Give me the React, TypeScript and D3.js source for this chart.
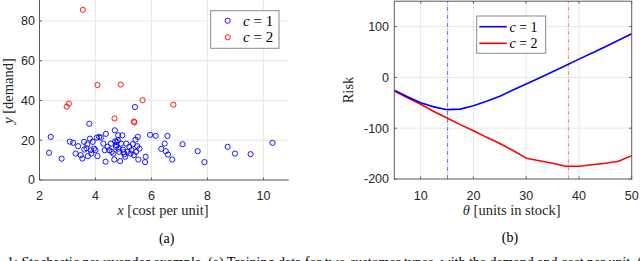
import React from "react";
import * as d3 from "d3";

// (a) training data: cost per unit x, demand y
const blueX = [2.34, 2.4, 2.79, 3.08, 3.2, 3.29, 3.38, 3.47, 3.53, 3.59, 3.6, 3.71, 3.73, 3.78, 3.8, 3.83, 3.85, 3.9, 3.95, 4.0, 4.05, 4.07, 4.13, 4.19, 4.28, 4.33, 4.37, 4.36, 4.43, 4.49, 4.55, 4.58, 4.64, 4.69, 4.67, 4.73, 4.76, 4.81, 4.82, 4.85, 4.88, 4.91, 4.96, 4.98, 5.03, 5.06, 5.1, 5.15, 5.21, 5.25, 5.29, 5.33, 5.37, 5.41, 5.43, 5.45, 5.49, 5.51, 5.53, 5.57, 5.79, 5.77, 5.95, 6.15, 6.35, 6.47, 6.51, 6.57, 6.59, 6.74, 7.11, 7.65, 7.89, 8.72, 8.98, 9.54, 10.32, 4.75, 4.8, 5.0, 4.7, 3.68];
const blueY = [13.7, 21.7, 10.7, 19.3, 18.7, 13.3, 17, 12.5, 10.8, 19.2, 15.3, 18, 12, 28.3, 20.8, 15, 13.3, 19.2, 15.8, 15, 21.3, 12, 21.7, 21.3, 18.3, 15, 23.2, 9.2, 16.7, 15, 18.3, 14.2, 13.3, 25, 10.3, 16.7, 19.2, 22.5, 15.8, 14.2, 9.5, 18.3, 22.5, 15.3, 13, 11.7, 18.3, 14.2, 16.7, 13.3, 15, 18, 12.5, 36.7, 20.3, 14.2, 17, 21.7, 10.3, 15.8, 11.7, 9, 22.7, 22.2, 15.7, 18.3, 14.5, 22.2, 12.8, 10.3, 18, 14.5, 9, 16.7, 13.3, 13, 18.7, 17.5, 20, 14, 19.5, 16];
const redX = [3.55, 2.97, 3.05, 4.07, 4.9, 5.68, 4.68, 5.37, 5.39, 6.78];
const redY = [85.6, 36.9, 38.4, 47.8, 48.0, 40.1, 31.0, 29.4, 29.0, 37.9];

// (b) risk curves
const theta = [5, 7.5, 10, 12.5, 15, 17.5, 20, 22.5, 25, 27.5, 30, 32.5, 35, 37.5, 40, 42.5, 45, 47.5, 50];
const risk1 = [-25, -38, -50, -58, -63.5, -62.5, -56, -47, -37, -25, -13, -1, 11, 23.5, 36, 48, 60.5, 73, 86];
const risk2 = [-27, -40, -53, -67, -80, -93, -105, -118, -130, -144, -159, -164, -169, -175, -175, -172, -169, -165, -154];
const optTheta = [15.1, 38.0];

const xTicksA = [2, 4, 6, 8, 10];
const yTicksA = [0, 20, 40, 60, 80];
const xTicksB = [10, 20, 30, 40, 50];
const yTicksB = [-200, -100, 0, 100];

const BLUE = "#0000ff";
const RED = "#ff0000";
const AXIS = "#5a5a5a";
const GRID = "#e8e8e8";
const TICKFONT = "'Liberation Sans', Arial, sans-serif";
const SERIF = "'Liberation Serif', 'Times New Roman', serif";

export default function App() {
  // left panel scales
  const xa = d3.scaleLinear().domain([2, 10.9]).range([39.5, 288.7]);
  const ya = d3.scaleLinear().domain([0, 90]).range([180, 1.1]);
  // right panel scales
  const xb = d3.scaleLinear().domain([5, 50]).range([394.3, 631.7]);
  const yb = d3.scaleLinear().domain([-200, 150]).range([179, 1.2]);

  const line1 = d3.line<number>().x((d, i) => xb(theta[i])).y((d) => yb(d));

  const [ax0, ax1] = xa.range();
  const [ay0, ay1] = ya.range();
  const [bx0, bx1] = xb.range();
  const [by0, by1] = yb.range();

  return (
    <svg width={640} height={261} style={{ position: "absolute", left: 0, top: 0, background: "#fff" }}>
      {/* ---------- (a) ---------- */}
      <g>
        {xTicksA.map((t) => (
          <line key={"gx" + t} x1={xa(t)} x2={xa(t)} y1={ay0} y2={ay1 - 1} stroke={GRID} />
        ))}
        {yTicksA.map((t) => (
          <line key={"gy" + t} x1={ax0} x2={ax1} y1={ya(t)} y2={ya(t)} stroke={GRID} />
        ))}
        {blueX.map((x, i) => (
          <circle key={"b" + i} cx={xa(x)} cy={ya(blueY[i])} r={2.6} fill="none" stroke={BLUE} strokeWidth={0.9} />
        ))}
        {redX.map((x, i) => (
          <circle key={"r" + i} cx={xa(x)} cy={ya(redY[i])} r={2.6} fill="none" stroke={RED} strokeWidth={0.9} />
        ))}
        <line x1={ax0} x2={ax0} y1={ay0} y2={0} stroke={AXIS} />
        <line x1={ax0} x2={ax1} y1={ay0} y2={ay0} stroke={AXIS} />
        {xTicksA.map((t) => (
          <g key={"tx" + t}>
            <line x1={xa(t)} x2={xa(t)} y1={ay0} y2={ay0 - 2.5} stroke={AXIS} />
            <text x={xa(t)} y={199.5} textAnchor="middle" fontFamily={TICKFONT} fontSize={12.5} fill="#262626">{t}</text>
          </g>
        ))}
        {yTicksA.map((t) => (
          <g key={"ty" + t}>
            <line x1={ax0} x2={ax0 + 2.5} y1={ya(t)} y2={ya(t)} stroke={AXIS} />
            <text x={35} y={ya(t) + 4.3} textAnchor="end" fontFamily={TICKFONT} fontSize={12.5} fill="#262626">{t}</text>
          </g>
        ))}
        <text x={163} y={215} textAnchor="middle" fontFamily={SERIF} fontSize={14.5} fill="#262626">
          <tspan fontStyle="italic">x</tspan> [cost per unit]
        </text>
        <text transform="translate(12.5,91) rotate(-90)" textAnchor="middle" fontFamily={SERIF} fontSize={14.5} fill="#262626">
          <tspan fontStyle="italic">y</tspan> [demand]
        </text>
        <text x={166.7} y={243} textAnchor="middle" fontFamily={SERIF} fontSize={14} fill="#000">(a)</text>
        {/* legend */}
        <rect x={210.7} y={10.7} width={68.3} height={37.6} fill="#fff" stroke="#8a8a8a" />
        <circle cx={227.7} cy={20.7} r={2.6} fill="none" stroke={BLUE} strokeWidth={0.9} />
        <circle cx={227.7} cy={37.3} r={2.6} fill="none" stroke={RED} strokeWidth={0.9} />
        <text x={243} y={25.8} fontFamily={SERIF} fontSize={15} fill="#000">
          <tspan fontStyle="italic">c</tspan> = 1
        </text>
        <text x={243} y={42.4} fontFamily={SERIF} fontSize={15} fill="#000">
          <tspan fontStyle="italic">c</tspan> = 2
        </text>
      </g>

      {/* ---------- (b) ---------- */}
      <g>
        {xTicksB.slice(0, -1).map((t) => (
          <line key={"gx" + t} x1={xb(t)} x2={xb(t)} y1={by0} y2={by1} stroke={GRID} />
        ))}
        {yTicksB.slice(1).map((t) => (
          <line key={"gy" + t} x1={bx0} x2={bx1} y1={yb(t)} y2={yb(t)} stroke={GRID} />
        ))}
        <line x1={xb(optTheta[0])} x2={xb(optTheta[0])} y1={by0} y2={by1} stroke="#3c3cff" strokeWidth={0.8} strokeDasharray="4,1.5,1,1.5" />
        <line x1={xb(optTheta[1])} x2={xb(optTheta[1])} y1={by0} y2={by1} stroke="#ff5a5a" strokeWidth={0.8} strokeDasharray="4,1.5,1,1.5" />
        <path d={line1(risk2) ?? ""} fill="none" stroke={RED} strokeWidth={1.6} strokeLinejoin="round" />
        <path d={line1(risk1) ?? ""} fill="none" stroke={BLUE} strokeWidth={1.6} strokeLinejoin="round" />
        <rect x={bx0} y={by1} width={bx1 - bx0} height={by0 - by1} fill="none" stroke={AXIS} />
        {xTicksB.map((t) => (
          <g key={"tx" + t}>
            <line x1={xb(t)} x2={xb(t)} y1={by0} y2={by0 - 2.5} stroke={AXIS} />
            <line x1={xb(t)} x2={xb(t)} y1={by1} y2={by1 + 2.5} stroke={AXIS} />
            <text x={xb(t)} y={199.5} textAnchor="middle" fontFamily={TICKFONT} fontSize={12.5} fill="#262626">{t}</text>
          </g>
        ))}
        {yTicksB.map((t) => (
          <g key={"ty" + t}>
            <line x1={bx0} x2={bx0 + 2.5} y1={yb(t)} y2={yb(t)} stroke={AXIS} />
            <line x1={bx1} x2={bx1 - 2.5} y1={yb(t)} y2={yb(t)} stroke={AXIS} />
            <text x={389} y={yb(t) + 4.3} textAnchor="end" fontFamily={TICKFONT} fontSize={12.5} fill="#262626">{t}</text>
          </g>
        ))}
        <text x={511.7} y={215} textAnchor="middle" fontFamily={SERIF} fontSize={14.5} fill="#262626">
          <tspan fontStyle="italic">θ</tspan> [units in stock]
        </text>
        <text transform="translate(353,90) rotate(-90)" textAnchor="middle" fontFamily={SERIF} fontSize={14.5} fill="#262626">Risk</text>
        <text x={510} y={241.5} textAnchor="middle" fontFamily={SERIF} fontSize={14} fill="#000">(b)</text>
        {/* legend */}
        <rect x={476.7} y={16} width={69} height={37.3} fill="#fff" stroke="#8a8a8a" />
        <line x1={479.3} x2={506.7} y1={26.7} y2={26.7} stroke={BLUE} strokeWidth={1.6} />
        <line x1={479.3} x2={506.7} y1={43.3} y2={43.3} stroke={RED} strokeWidth={1.6} />
        <text x={509.5} y={31.5} fontFamily={SERIF} fontSize={14} fill="#000">
          <tspan fontStyle="italic">c</tspan> = 1
        </text>
        <text x={509.5} y={48.1} fontFamily={SERIF} fontSize={14} fill="#000">
          <tspan fontStyle="italic">c</tspan> = 2
        </text>
      </g>

      {/* caption line, cut by the bottom edge as in the source */}
      <text x={7} y={266.5} fontFamily={SERIF} fontSize={14} fill="#000">
        1: Stochastic newsvendor example. (a) Training data for two customer types, with the demand and cost per unit. (b) Risk for different
      </text>
    </svg>
  );
}
